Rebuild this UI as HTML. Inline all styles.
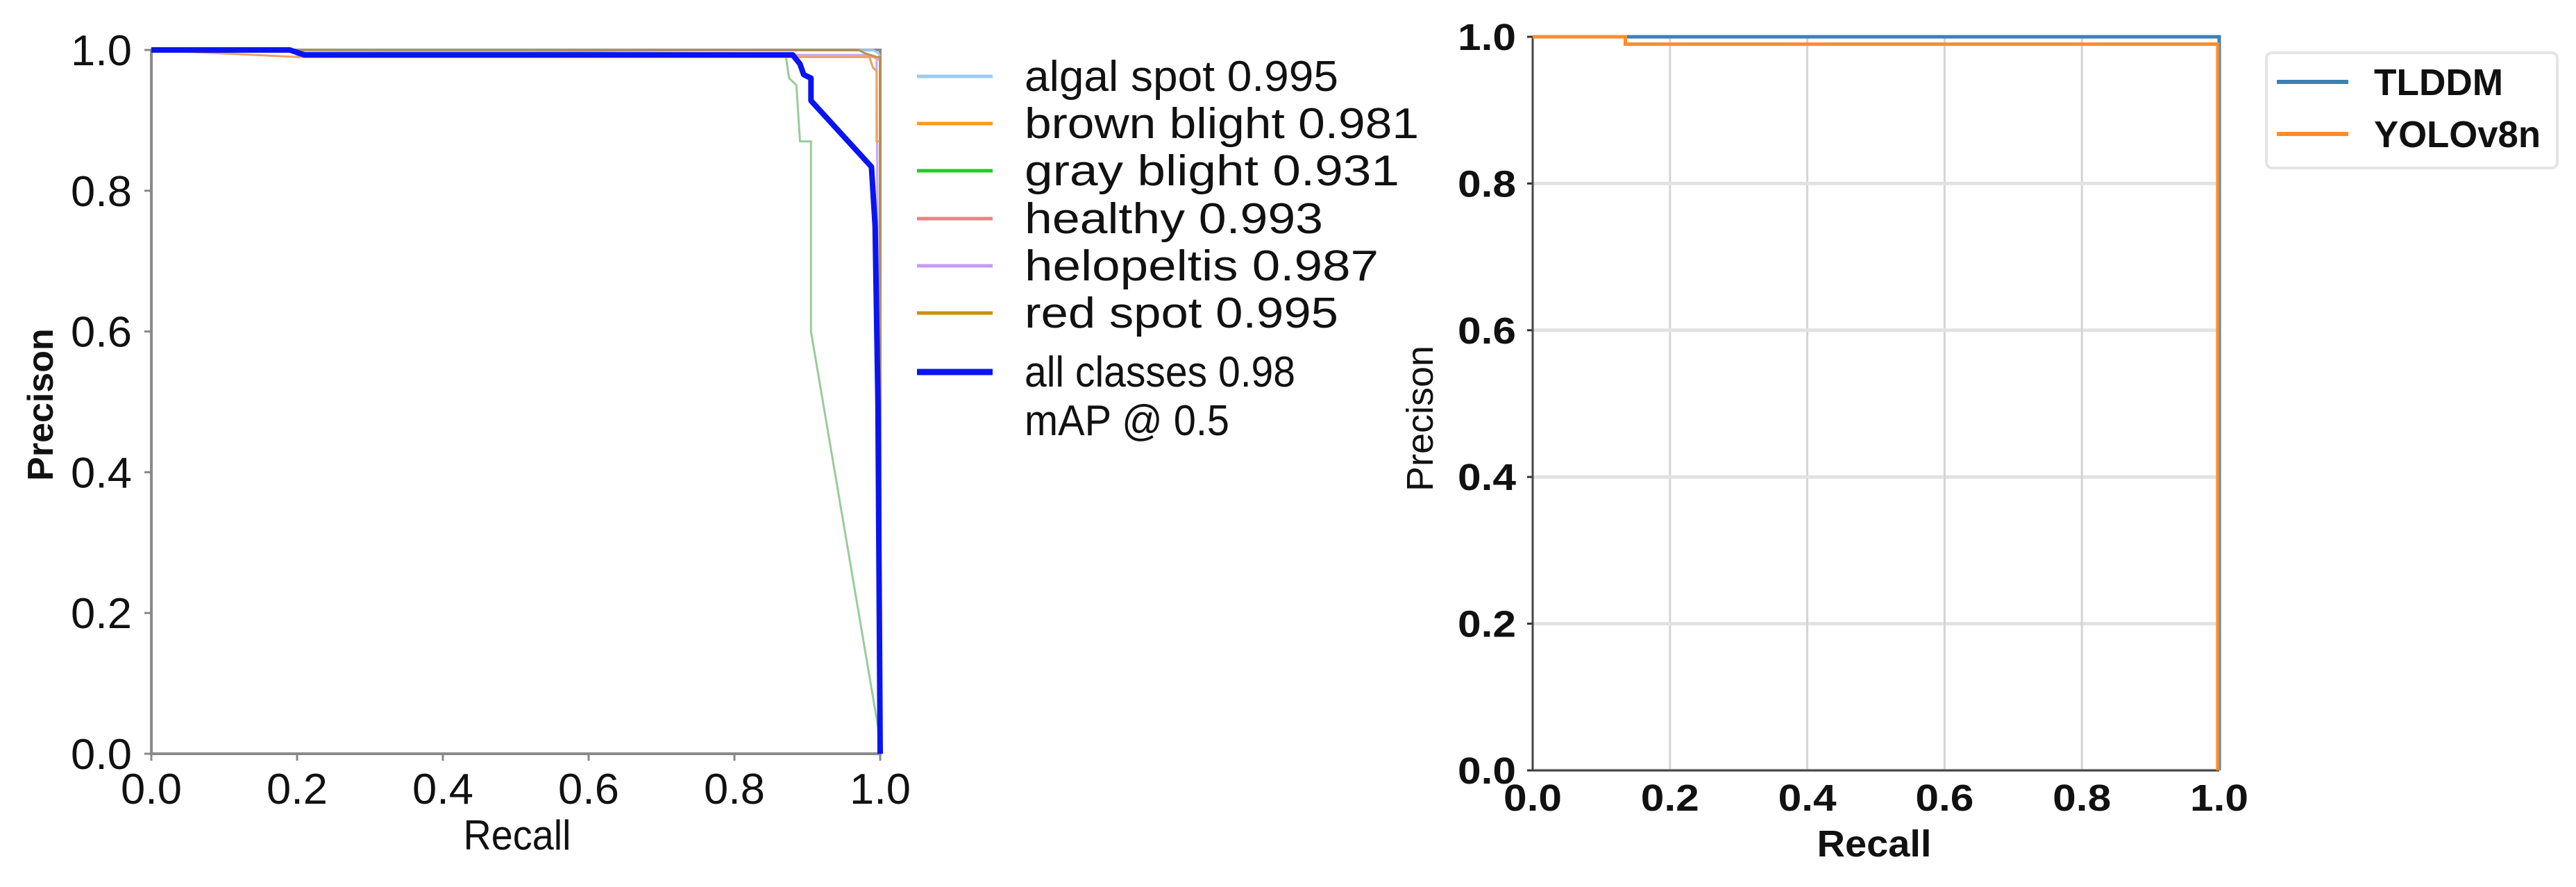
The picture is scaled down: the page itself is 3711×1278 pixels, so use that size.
<!DOCTYPE html>
<html><head><meta charset="utf-8"><style>
html,body{margin:0;padding:0;background:#fff;}
svg{display:block;}
text{font-family:"Liberation Sans","DejaVu Sans",sans-serif;}
</style></head><body>
<svg id="chart" width="3711" height="1278" viewBox="0 0 3711 1278" xmlns="http://www.w3.org/2000/svg">
<g id="left"></g>
<g id="right"></g>
</svg>
<script>
// ---- Left chart data ----
const leftTicks = [0, 0.2, 0.4, 0.6, 0.8, 1.0];
const leftTickLabels = ["0.0","0.2","0.4","0.6","0.8","1.0"];
const leftClassNames = ["algal spot 0.995","brown blight 0.981","gray blight 0.931","healthy 0.993","helopeltis 0.987","red spot 0.995"];
const algalRecall = [0, 0.99, 0.998, 1.0, 1.0];
const algalPrec   = [1.0, 1.0, 0.995, 0.99, 0.0];
const brownRecall = [0, 0.2, 0.985, 0.99, 0.995, 0.995, 1.0, 1.0];
const brownPrec   = [1.0, 0.99, 0.99, 0.975, 0.97, 0.87, 0.87, 0.0];
const grayRecall = [0, 0.87, 0.875, 0.885, 0.89, 0.895, 0.905, 0.905, 1.0];
const grayPrec   = [1.0, 0.995, 0.96, 0.95, 0.87, 0.87, 0.87, 0.6, 0.02];
const healthyRecall = [0, 0.2, 0.21, 0.99, 1.0, 1.0];
const healthyPrec   = [1.0, 1.0, 0.99, 0.99, 0.985, 0.0];
const helopRecall = [0, 0.19, 0.2, 0.98, 0.995, 1.0];
const helopPrec   = [1.0, 1.0, 0.993, 0.993, 0.99, 0.0];
const redRecall = [0, 0.97, 0.98, 0.995, 1.0, 1.0];
const redPrec   = [1.0, 1.0, 0.995, 0.99, 0.99, 0.0];
const allRecall = [0, 0.19, 0.21, 0.88, 0.89, 0.895, 0.905, 0.905, 0.988, 0.993, 0.997, 1.0];
const allPrec   = [1.0, 1.0, 0.993, 0.993, 0.98, 0.965, 0.96, 0.928, 0.834, 0.75, 0.5, 0.0];
// ---- Right chart data ----
const rightTicks = [0, 0.2, 0.4, 0.6, 0.8, 1.0];
const rightTickLabels = ["0.0","0.2","0.4","0.6","0.8","1.0"];
const tlddmRecall = [0, 1.0, 1.0];
const tlddmPrec   = [1.0, 1.0, 0.0];
const yoloRecall = [0, 0.135, 0.135, 0.998, 0.998];
const yoloPrec   = [1.0, 1.0, 0.99, 0.99, 0.0];

const NS = "http://www.w3.org/2000/svg";
function mk(parent, tag, attrs, txt){
  const e = document.createElementNS(NS, tag);
  for (const k in attrs) e.setAttribute(k, attrs[k]);
  if (txt !== undefined) e.textContent = txt;
  parent.appendChild(e);
  return e;
}
function pathD(xs, ys, X, Y){
  return xs.map((r,i)=>(i?"L":"M")+X(r).toFixed(1)+","+Y(ys[i]).toFixed(1)).join(" ");
}

// ===== LEFT =====
(function(){
  const g = document.getElementById('left');
  const X = r => 218 + r*1050;
  const Y = p => 1086 - p*1014;
  const frame = mk(g,'rect',{x:X(0),y:Y(1),width:X(1)-X(0),height:Y(0)-Y(1),fill:'none',stroke:'#8a8a8a','stroke-width':4});
  
  
  leftTicks.forEach((t,i)=>{
    const tx = mk(g,'line',{x1:X(t),x2:X(t),y1:Y(0),y2:Y(0)+10,stroke:'#888','stroke-width':3});
    
    
    const xl = mk(g,'text',{x:X(t),y:1158,'font-size':62,'text-anchor':'middle',fill:'#111',textLength:88,lengthAdjust:'spacingAndGlyphs'},leftTickLabels[i]);
    
    
    const ty = mk(g,'line',{x1:X(0)-10,x2:X(0),y1:Y(t),y2:Y(t),stroke:'#888','stroke-width':3});
    
    
    const yl = mk(g,'text',{x:190,y:Y(t)+22,'font-size':62,'text-anchor':'end',fill:'#111',textLength:88,lengthAdjust:'spacingAndGlyphs'},leftTickLabels[i]);
    
    
  });
  const xt = mk(g,'text',{x:745,y:1224,'font-size':60,'text-anchor':'middle',fill:'#111',textLength:155,lengthAdjust:'spacingAndGlyphs'},'Recall');
  
  
  const yt = mk(g,'text',{x:0,y:0,'font-size':52,'text-anchor':'middle',fill:'#111','font-weight':'bold',transform:'translate(76,583) rotate(-90)'},'Precison');
  
  

  const series = [
    [algalRecall, algalPrec, '#9ecbf0', 3, 'algal-spot-curve'],
    [helopRecall, helopPrec, '#c7a8ee', 3, 'helopeltis-curve'],
    [healthyRecall, healthyPrec, '#f3a0a0', 3, 'healthy-curve'],
    [grayRecall, grayPrec, '#98cc98', 3, 'gray-blight-curve'],
    [brownRecall, brownPrec, '#f0a060', 3, 'brown-blight-curve'],
    [redRecall, redPrec, '#b89050', 3, 'red-spot-curve'],
    [allRecall, allPrec, '#0a14f0', 8, 'all-classes-curve']
  ];
  series.forEach(s=>{
    const p = mk(g,'path',{d:pathD(s[0],s[1],X,Y),fill:'none',stroke:s[2],'stroke-width':s[3],'stroke-linejoin':'round'});
    
    
  });
  // legend
  const legColors = ['#9ecbf0','#ff9a1a','#22cc22','#f08080','#c79af5','#c8900a'];
  const legWidths = [452,568,540,430,510,452];
  const rowsY = [110,178,246,315,383,451];
  leftClassNames.forEach((n,i)=>{
    const l = mk(g,'line',{x1:1321,x2:1430,y1:rowsY[i],y2:rowsY[i],stroke:legColors[i],'stroke-width':5});
    
    
    const t = mk(g,'text',{x:1476,y:rowsY[i]+21,'font-size':62,fill:'#111',textLength:legWidths[i],lengthAdjust:'spacingAndGlyphs'},n);
    
    
  });
  const la = mk(g,'line',{x1:1321,x2:1430,y1:536,y2:536,stroke:'#0a14f0','stroke-width':9});
  
  
  const ta = mk(g,'text',{x:1476,y:557,'font-size':62,fill:'#111',textLength:390,lengthAdjust:'spacingAndGlyphs'},'all classes 0.98');
  
  
  const tm = mk(g,'text',{x:1476,y:627,'font-size':62,fill:'#111',textLength:295,lengthAdjust:'spacingAndGlyphs'},'mAP @ 0.5');
  
  
})();

// ===== RIGHT =====
(function(){
  const g = document.getElementById('right');
  const X = r => 2208 + r*989;
  const Y = p => 1110 - p*1057;
  rightTicks.forEach((t,i)=>{
    const gx = mk(g,'line',{x1:X(t),x2:X(t),y1:Y(1),y2:Y(0),stroke:'#d4d4d4','stroke-width':3});
    
    
    const gy = mk(g,'line',{x1:X(0),x2:X(1),y1:Y(t),y2:Y(t),stroke:'#e2e2e2','stroke-width':5});
    
    
    const xl = mk(g,'text',{x:X(t),y:1168,'font-size':54,'font-weight':'bold','text-anchor':'middle',fill:'#111',textLength:84,lengthAdjust:'spacingAndGlyphs'},rightTickLabels[i]);
    
    
    const yl = mk(g,'text',{x:2184,y:Y(t)+19,'font-size':54,'font-weight':'bold','text-anchor':'end',fill:'#111',textLength:84,lengthAdjust:'spacingAndGlyphs'},rightTickLabels[i]);
    
    
    const tk = mk(g,'line',{x1:X(0)-8,x2:X(0),y1:Y(t),y2:Y(t),stroke:'#333','stroke-width':3});
    
    
  });
  const ax = mk(g,'path',{d:`M${X(0)},${Y(1)} L${X(0)},${Y(0)} L${X(1)},${Y(0)}`,fill:'none',stroke:'#444','stroke-width':3});
  
  
  const p1 = mk(g,'path',{d:pathD(tlddmRecall,tlddmPrec,X,Y),fill:'none',stroke:'#3f7fb5','stroke-width':5});
  
  
  const p2 = mk(g,'path',{d:pathD(yoloRecall,yoloPrec,X,Y),fill:'none',stroke:'#ff8c2a','stroke-width':5});
  
  
  const xt = mk(g,'text',{x:2700,y:1234,'font-size':54,'font-weight':'bold','text-anchor':'middle',fill:'#111',textLength:165,lengthAdjust:'spacingAndGlyphs'},'Recall');
  
  
  const yt = mk(g,'text',{x:0,y:0,'font-size':54,'text-anchor':'middle',fill:'#111',transform:'translate(2064,603) rotate(-90)'},'Precison');
  
  
  const box = mk(g,'rect',{x:3265,y:76,width:419,height:166,rx:8,fill:'#fff',stroke:'#e4e4e4','stroke-width':4});
  
  
  const l1 = mk(g,'line',{x1:3280,x2:3383,y1:118,y2:118,stroke:'#3f7fb5','stroke-width':6});
  
  
  const t1 = mk(g,'text',{x:3420,y:137,'font-size':54,'font-weight':'bold',fill:'#111',textLength:186,lengthAdjust:'spacingAndGlyphs'},'TLDDM');
  
  
  const l2 = mk(g,'line',{x1:3280,x2:3383,y1:193,y2:193,stroke:'#ff8c2a','stroke-width':6});
  
  
  const t2 = mk(g,'text',{x:3420,y:212,'font-size':54,'font-weight':'bold',fill:'#111',textLength:240,lengthAdjust:'spacingAndGlyphs'},'YOLOv8n');
  
  
})();
</script>
</body></html>
